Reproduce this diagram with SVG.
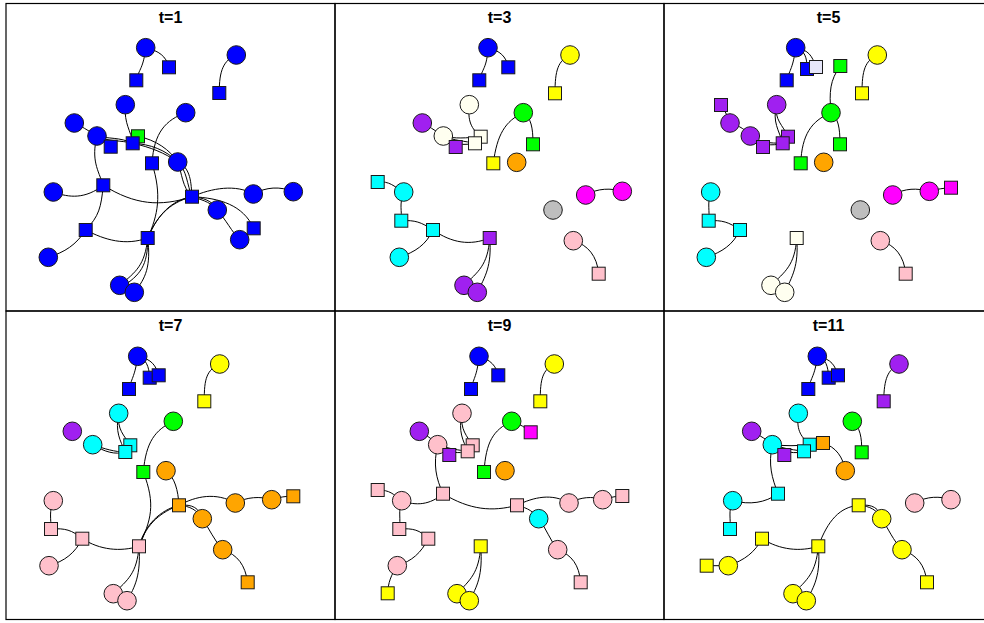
<svg xmlns="http://www.w3.org/2000/svg" xmlns:xlink="http://www.w3.org/1999/xlink" width="984" height="623" viewBox="0 0 984 623">
<style>
.frame{fill:none;stroke:#000;stroke-width:1.2}
.t{font-family:"Liberation Sans",Arial,sans-serif;font-weight:bold;font-size:16px;text-anchor:middle;fill:#000}
.e{fill:none;stroke:#000;stroke-width:1}
.n{stroke:#1a1a1a;stroke-width:1}
.bl{fill:#0000FF}.gr{fill:#00FF00}.ye{fill:#FFFF00}.pu{fill:#A020F0}.iv{fill:#FFFFF0}.or{fill:#FFA500}
.cy{fill:#00FFFF}.ma{fill:#FF00FF}.gy{fill:#BEBEBE}.pk{fill:#FFC0CB}.lv{fill:#E6E6FA}
</style>
<defs>
<rect id="sq" x="-6.5" y="-6.5" width="13" height="13"/>
</defs>
<rect width="984" height="623" fill="#fff"/>
<g id="frames">
<rect class="frame" x="6" y="3.5" width="329" height="307.5"/>
<rect class="frame" x="335" y="3.5" width="329" height="307.5"/>
<rect class="frame" x="664" y="3.5" width="329" height="307.5"/>
<rect class="frame" x="6" y="311" width="329" height="308.5"/>
<rect class="frame" x="335" y="311" width="329" height="308.5"/>
<rect class="frame" x="664" y="311" width="329" height="308.5"/>
</g>
<g id="titles">
<text class="t" x="170.5" y="22.5">t=1</text>
<text class="t" x="499.5" y="22.5">t=3</text>
<text class="t" x="828.5" y="22.5">t=5</text>
<text class="t" x="170.5" y="330.5">t=7</text>
<text class="t" x="499.5" y="330.5">t=9</text>
<text class="t" x="828.5" y="330.5">t=11</text>
</g>
<g id="connectors">
<!-- panel 1 -->
<path class="e" d="M145.7,47.7 C143.5,68 139,69 136.3,80.3"/>
<path class="e" d="M145.7,47.7 C159,51 166,56 169,67.3"/>
<path class="e" d="M236.3,55 C224,60 219,70 219.3,93"/>
<path class="e" d="M125.3,104.7 C124,125 131,130 132.7,143.3"/>
<path class="e" d="M185.7,112.7 C166,120 154,132 152,163.3"/>
<path class="e" d="M74.3,123 C85,128 90,132 97,136"/>
<path class="e" d="M97,136 C104,141 106,143 110.7,146.7"/>
<path class="e" d="M97,136 C108,139 120,137 132.7,143.3"/>
<path class="e" d="M97,136 C108,142 121,140 132.7,143.3"/>
<path class="e" d="M132.7,143.3 C150,144 166,150 177.7,162"/>
<path class="e" d="M132.7,143.3 C150,147 165,153 177.7,162"/>
<path class="e" d="M138,136.3 C156,140 170,150 177.7,162"/>
<path class="e" d="M177.7,162 C187,170 187,185 192,196.7"/>
<path class="e" d="M177.7,162 C182,173 182,187 192,196.7"/>
<path class="e" d="M177.7,162 C191,168 191,183 192,196.7"/>
<path class="e" d="M97,136 C91,160 98,170 103.3,185.3"/>
<path class="e" d="M53.3,192 C70,198 85,199 103.3,185.3"/>
<path class="e" d="M103.3,185.3 C135,205 160,207 192,196.7"/>
<path class="e" d="M103.3,185.3 C101,208 99,216 85.7,230"/>
<path class="e" d="M85.7,230 C76,245 65,252 48.3,257.3"/>
<path class="e" d="M85.7,230 C105,240 125,246 147.7,238"/>
<path class="e" d="M152,163.3 C162,195 158,215 147.7,238"/>
<path class="e" d="M192,196.7 C168,203 156,218 147.7,238"/>
<path class="e" d="M192,196.7 C172,200 158,214 147.7,238"/>
<path class="e" d="M192,196.7 C212,188 236,184 253.3,194"/>
<path class="e" d="M253.3,194 C266,187 280,186 293.3,191.7"/>
<path class="e" d="M192,196.7 C203,198 212,200 217.3,210"/>
<path class="e" d="M192,196.7 C206,201 211,203 217.3,210"/>
<path class="e" d="M192,196.7 C220,198 243,205 253.7,228.3"/>
<path class="e" d="M217.3,210 C226,220 232,232 239.7,239.7"/>
<path class="e" d="M147.7,238 C145,265 136,272 119.7,285.3"/>
<path class="e" d="M147.7,238 C148,266 140,275 122,287"/>
<path class="e" d="M147.7,238 C151,266 146,278 134.3,292.3"/>
<!-- panel 2 -->
<path class="e" d="M488,47.7 C487,68 482,69 479.3,80.3"/>
<path class="e" d="M488,47.7 C500,51 506,56 508.3,67.3"/>
<path class="e" d="M570,55 C558,61 555,70 555,93.3"/>
<path class="e" d="M469.3,104.7 C467,125 474,130 480.7,136.7"/>
<path class="e" d="M422.3,123 C432,128 437,132 443.3,136"/>
<path class="e" d="M443.3,136 C455,139 466,138 480.7,136.7"/>
<path class="e" d="M443.3,136 C455,141 465,141 475,143.3"/>
<path class="e" d="M443.3,136 C452,146 465,145 475,143.3"/>
<path class="e" d="M443.3,136 C449,142 452,144 455.7,147"/>
<path class="e" d="M523.3,112.7 C505,121 497,135 493.3,163.3"/>
<path class="e" d="M523.3,112.7 C531,118 533,127 533,144.3"/>
<path class="e" d="M377.7,182 C390,181 393,186 403.7,192"/>
<path class="e" d="M403.7,192 C399,205 402,210 401.3,220.7"/>
<path class="e" d="M401.3,220.7 C415,220 421,222 433,230"/>
<path class="e" d="M433,230 C426,245 415,252 399.3,257.3"/>
<path class="e" d="M433,230 C452,243 470,246 489.7,238"/>
<path class="e" d="M489.7,238 C488,265 478,272 464,285.3"/>
<path class="e" d="M489.7,238 C492,266 485,277 477.3,292.3"/>
<path class="e" d="M585.7,195 C598,188 611,188 622.3,191.3"/>
<path class="e" d="M573.3,240.7 C588,245 597,256 598.7,273.7"/>
<!-- panel 3 -->
<path class="e" d="M795.7,47.7 C793,68 790,69 786.7,80.3"/>
<path class="e" d="M795.7,47.7 C805,51 807,57 807,69"/>
<path class="e" d="M795.7,47.7 C809,50 812,56 816,67"/>
<path class="e" d="M840.3,66 C830,80 829,92 831,112.7"/>
<path class="e" d="M877.3,55 C865,61 862,70 862,93.3"/>
<path class="e" d="M721,105 C726,112 727,116 730,123"/>
<path class="e" d="M730,123 C740,126 746,130 750.3,136"/>
<path class="e" d="M750.3,136 C760,143 770,143 782.7,143.3"/>
<path class="e" d="M750.3,136 C762,146 772,146 782.7,143.3"/>
<path class="e" d="M750.3,136 C757,141 760,144 763,147"/>
<path class="e" d="M776.7,104.7 C774,120 783,125 788,136.7"/>
<path class="e" d="M776.7,104.7 C772,122 779,130 782.7,143.3"/>
<path class="e" d="M831,112.7 C811,121 802,135 800.7,163.3"/>
<path class="e" d="M831,112.7 C838,118 840,127 840,144.3"/>
<path class="e" d="M710.7,192 C707,205 710,210 708.7,220.7"/>
<path class="e" d="M708.7,220.7 C722,220 729,222 740,230"/>
<path class="e" d="M740,230 C733,245 722,252 706.3,257.3"/>
<path class="e" d="M796.7,238 C795,265 785,272 771,285.3"/>
<path class="e" d="M796.7,238 C799,266 792,277 784.7,292.3"/>
<path class="e" d="M892.7,195 C905,188 917,188 929.3,191.3"/>
<path class="e" d="M929.3,191.3 C938,189 944,188 951,187.7"/>
<path class="e" d="M880.3,240.7 C895,245 904,256 905.7,273.7"/>
<!-- panel 4 -->
<path class="e" d="M137.7,356.3 C135,376 132,377 129,389"/>
<path class="e" d="M137.7,356.3 C146,359 149,366 149.7,377.7"/>
<path class="e" d="M137.7,356.3 C152,359 156,366 158.7,375.3"/>
<path class="e" d="M219.7,364 C207,370 204,378 204.3,401.3"/>
<path class="e" d="M118.7,413.3 C117,430 124,435 130.3,445.3"/>
<path class="e" d="M118.7,413.3 C115,432 120,440 125.3,452"/>
<path class="e" d="M92.7,444.7 C105,449 115,452 125.3,452"/>
<path class="e" d="M92.7,444.7 C105,452 115,455 125.3,452"/>
<path class="e" d="M173.3,421.3 C155,430 146,442 143.3,472"/>
<path class="e" d="M143.3,472 C156,505 151,520 139,546.3"/>
<path class="e" d="M139,546.3 C145,525 160,510 179,505.3"/>
<path class="e" d="M139,546.3 C147,522 162,512 179,505.3"/>
<path class="e" d="M166,470.7 C175,478 178,490 179,505.3"/>
<path class="e" d="M179,505.3 C196,496 216,492 235.3,503"/>
<path class="e" d="M235.3,503 C247,497 260,496 271.7,499.7"/>
<path class="e" d="M271.7,499.7 C280,497 286,496 293.3,496.3"/>
<path class="e" d="M179,505.3 C190,506 197,510 202.3,518.7"/>
<path class="e" d="M179,505.3 C193,504 199,508 202.3,518.7"/>
<path class="e" d="M202.3,518.7 C210,530 214,540 222.7,549.7"/>
<path class="e" d="M222.7,549.7 C238,555 245,565 247.7,582.3"/>
<path class="e" d="M53.3,500.7 C49,512 51,518 51,529"/>
<path class="e" d="M51,529 C65,528 72,530 82.3,538.7"/>
<path class="e" d="M82.3,538.7 C75,553 65,561 49,565.7"/>
<path class="e" d="M82.3,538.7 C100,550 120,552 139,546.3"/>
<path class="e" d="M139,546.3 C137,573 128,580 113.3,593.7"/>
<path class="e" d="M139,546.3 C141,575 135,587 127,600.7"/>
<!-- panel 5 -->
<path class="e" d="M479,356.3 C477,376 474,377 471,389"/>
<path class="e" d="M479,356.3 C491,360 496,366 498.3,375.3"/>
<path class="e" d="M554.3,364 C543,370 540,378 540.3,401.3"/>
<path class="e" d="M462,413.3 C460,430 467,436 472.7,445.3"/>
<path class="e" d="M462,413.3 C458,432 463,440 467.7,451.3"/>
<path class="e" d="M419.3,431.3 C428,436 433,440 437.7,444.7"/>
<path class="e" d="M437.7,444.7 C450,449 458,450 467.7,451.3"/>
<path class="e" d="M437.7,444.7 C450,453 458,454 467.7,451.3"/>
<path class="e" d="M437.7,444.7 C443,450 446,452 449.3,455"/>
<path class="e" d="M511.7,421.3 C493,430 486,442 484,472"/>
<path class="e" d="M511.7,421.3 C520,424 526,428 530.7,432.3"/>
<path class="e" d="M437.7,444.7 C433,465 436,478 443,493.7"/>
<path class="e" d="M377.7,490 C390,490 393,494 401.7,500.7"/>
<path class="e" d="M401.7,500.7 C416,506 430,505 443,493.7"/>
<path class="e" d="M443,493.7 C470,510 492,512 517,505.3"/>
<path class="e" d="M517,505.3 C534,497 552,493 569,503"/>
<path class="e" d="M569,503 C581,497 592,496 602.7,499.7"/>
<path class="e" d="M602.7,499.7 C612,497 617,496 622.3,496"/>
<path class="e" d="M517,505.3 C528,508 534,512 538.7,518.7"/>
<path class="e" d="M538.7,518.7 C547,530 550,540 557.7,549.7"/>
<path class="e" d="M557.7,549.7 C572,555 579,565 580.7,582.3"/>
<path class="e" d="M401.7,500.7 C398,512 401,518 399.3,529"/>
<path class="e" d="M399.3,529 C413,528 420,530 428.3,538.7"/>
<path class="e" d="M428.3,538.7 C421,553 412,561 397.3,565.7"/>
<path class="e" d="M397.3,565.7 C391,575 388,583 387.7,593.3"/>
<path class="e" d="M480.7,546.3 C479,573 470,580 457,593.7"/>
<path class="e" d="M480.7,546.3 C483,575 477,587 469.3,600.7"/>
<!-- panel 6 -->
<path class="e" d="M817.3,356.3 C815,376 811,377 808.3,389"/>
<path class="e" d="M817.3,356.3 C826,359 828,366 828.7,377.7"/>
<path class="e" d="M817.3,356.3 C832,359 835,366 838,375.3"/>
<path class="e" d="M899,364 C888,370 884,378 883.7,401.3"/>
<path class="e" d="M798.3,413.3 C796,432 802,437 809.7,444.7"/>
<path class="e" d="M751.7,431.3 C761,436 767,440 772.3,444.7"/>
<path class="e" d="M772.3,444.7 C785,449 795,450 804,451.3"/>
<path class="e" d="M772.3,444.7 C785,446 797,446 809.7,444.7"/>
<path class="e" d="M772.3,444.7 C785,453 795,454 804,451.3"/>
<path class="e" d="M772.3,444.7 C778,450 781,452 784.3,455"/>
<path class="e" d="M823,443 C836,447 843,457 845.3,470.7"/>
<path class="e" d="M852.3,421.3 C860,427 862,437 861.7,452.3"/>
<path class="e" d="M772.3,444.7 C768,465 772,478 778,493.7"/>
<path class="e" d="M778,493.7 C765,503 750,505 732.7,500.7"/>
<path class="e" d="M732.7,500.7 C728,512 731,518 730,529"/>
<path class="e" d="M706.7,565.7 L728.3,565.7"/>
<path class="e" d="M728.3,565.7 C745,560 755,552 762,538.7"/>
<path class="e" d="M762,538.7 C780,550 800,552 818.3,546.3"/>
<path class="e" d="M818.3,546.3 C828,520 840,507 858.7,505.3"/>
<path class="e" d="M858.7,505.3 C870,506 877,510 881.7,518.7"/>
<path class="e" d="M858.7,505.3 C873,504 879,508 881.7,518.7"/>
<path class="e" d="M881.7,518.7 C889,530 893,540 902,549.7"/>
<path class="e" d="M902,549.7 C917,555 925,565 927,582.3"/>
<path class="e" d="M818.3,546.3 C816,573 807,580 793,593.7"/>
<path class="e" d="M818.3,546.3 C821,575 814,587 806.3,600.7"/>
<path class="e" d="M914.7,503 C927,496 940,496 951,499.7"/>
</g>
<!-- panel 1 nodes -->
<g id="p1-c1"><circle class="n bl" cx="145.7" cy="47.7" r="9.3"/></g>
<g id="p1-c2"><circle class="n bl" cx="236.3" cy="55" r="9.3"/></g>
<g id="p1-c3"><circle class="n bl" cx="125.3" cy="104.7" r="9.3"/></g>
<g id="p1-c4"><circle class="n bl" cx="185.7" cy="112.7" r="9.3"/></g>
<g id="p1-c5"><circle class="n bl" cx="74.3" cy="123" r="9.3"/></g>
<g id="p1-c6"><circle class="n bl" cx="97" cy="136" r="9.3"/></g>
<g id="p1-c7"><circle class="n bl" cx="177.7" cy="162" r="9.3"/></g>
<g id="p1-c8"><circle class="n bl" cx="53.3" cy="192" r="9.3"/></g>
<g id="p1-c9"><circle class="n bl" cx="253.3" cy="194" r="9.3"/></g>
<g id="p1-c10"><circle class="n bl" cx="293.3" cy="191.7" r="9.3"/></g>
<g id="p1-c11"><circle class="n bl" cx="217.3" cy="210" r="9.3"/></g>
<g id="p1-c12"><circle class="n bl" cx="239.7" cy="239.7" r="9.3"/></g>
<g id="p1-c13"><circle class="n bl" cx="48.3" cy="257.3" r="9.3"/></g>
<g id="p1-c14"><circle class="n bl" cx="119.7" cy="285.3" r="9.3"/></g>
<g id="p1-c15"><circle class="n bl" cx="134.3" cy="292.3" r="9.3"/></g>
<g id="p1-s1"><use href="#sq" x="169" y="67.3" class="n bl"/></g>
<g id="p1-s2"><use href="#sq" x="136.3" y="80.3" class="n bl"/></g>
<g id="p1-s3"><use href="#sq" x="219.3" y="93" class="n bl"/></g>
<g id="p1-s4"><use href="#sq" x="138" y="136.3" class="n gr"/></g>
<g id="p1-s5"><use href="#sq" x="110.7" y="146.7" class="n bl"/></g>
<g id="p1-s6"><use href="#sq" x="132.7" y="143.3" class="n bl"/></g>
<g id="p1-s7"><use href="#sq" x="152" y="163.3" class="n bl"/></g>
<g id="p1-s8"><use href="#sq" x="103.3" y="185.3" class="n bl"/></g>
<g id="p1-s9"><use href="#sq" x="192" y="196.7" class="n bl"/></g>
<g id="p1-s10"><use href="#sq" x="253.7" y="228.3" class="n bl"/></g>
<g id="p1-s11"><use href="#sq" x="85.7" y="230" class="n bl"/></g>
<g id="p1-s12"><use href="#sq" x="147.7" y="238" class="n bl"/></g>
<!-- panel 2 nodes -->
<g id="p2-c1"><circle class="n bl" cx="488" cy="47.7" r="9.3"/></g>
<g id="p2-c2"><circle class="n ye" cx="570" cy="55" r="9.3"/></g>
<g id="p2-c3"><circle class="n iv" cx="469.3" cy="104.7" r="9.3"/></g>
<g id="p2-c4"><circle class="n gr" cx="523.3" cy="112.7" r="9.3"/></g>
<g id="p2-c5"><circle class="n pu" cx="422.3" cy="123" r="9.3"/></g>
<g id="p2-c6"><circle class="n iv" cx="443.3" cy="136" r="9.3"/></g>
<g id="p2-c7"><circle class="n or" cx="516.7" cy="162.3" r="9.3"/></g>
<g id="p2-c8"><circle class="n cy" cx="403.7" cy="192" r="9.3"/></g>
<g id="p2-c9"><circle class="n ma" cx="585.7" cy="195" r="9.3"/></g>
<g id="p2-c10"><circle class="n ma" cx="622.3" cy="191.3" r="9.3"/></g>
<g id="p2-c11"><circle class="n gy" cx="553" cy="210" r="9.3"/></g>
<g id="p2-c12"><circle class="n pk" cx="573.3" cy="240.7" r="9.3"/></g>
<g id="p2-c13"><circle class="n cy" cx="399.3" cy="257.3" r="9.3"/></g>
<g id="p2-c14"><circle class="n pu" cx="464" cy="285.3" r="9.3"/></g>
<g id="p2-c15"><circle class="n pu" cx="477.3" cy="292.3" r="9.3"/></g>
<g id="p2-s1"><use href="#sq" x="508.3" y="67.3" class="n bl"/></g>
<g id="p2-s2"><use href="#sq" x="479.3" y="80.3" class="n bl"/></g>
<g id="p2-s3"><use href="#sq" x="555" y="93.3" class="n ye"/></g>
<g id="p2-s4"><use href="#sq" x="480.7" y="136.7" class="n iv"/></g>
<g id="p2-s5"><use href="#sq" x="475" y="143.3" class="n iv"/></g>
<g id="p2-s6"><use href="#sq" x="455.7" y="147" class="n pu"/></g>
<g id="p2-s7"><use href="#sq" x="493.3" y="163.3" class="n ye"/></g>
<g id="p2-s8"><use href="#sq" x="533" y="144.3" class="n gr"/></g>
<g id="p2-s9"><use href="#sq" x="377.7" y="182" class="n cy"/></g>
<g id="p2-s10"><use href="#sq" x="401.3" y="220.7" class="n cy"/></g>
<g id="p2-s11"><use href="#sq" x="433" y="230" class="n cy"/></g>
<g id="p2-s12"><use href="#sq" x="489.7" y="238" class="n pu"/></g>
<g id="p2-s13"><use href="#sq" x="598.7" y="273.7" class="n pk"/></g>
<!-- panel 3 nodes -->
<g id="p3-c1"><circle class="n bl" cx="795.7" cy="47.7" r="9.3"/></g>
<g id="p3-c2"><circle class="n ye" cx="877.3" cy="55" r="9.3"/></g>
<g id="p3-c3"><circle class="n pu" cx="776.7" cy="104.7" r="9.3"/></g>
<g id="p3-c4"><circle class="n gr" cx="831" cy="112.7" r="9.3"/></g>
<g id="p3-c5"><circle class="n pu" cx="730" cy="123" r="9.3"/></g>
<g id="p3-c6"><circle class="n pu" cx="750.3" cy="136" r="9.3"/></g>
<g id="p3-c7"><circle class="n or" cx="823.7" cy="162.3" r="9.3"/></g>
<g id="p3-c8"><circle class="n cy" cx="710.7" cy="192" r="9.3"/></g>
<g id="p3-c9"><circle class="n ma" cx="892.7" cy="195" r="9.3"/></g>
<g id="p3-c10"><circle class="n ma" cx="929.3" cy="191.3" r="9.3"/></g>
<g id="p3-c11"><circle class="n gy" cx="860.3" cy="210" r="9.3"/></g>
<g id="p3-c12"><circle class="n pk" cx="880.3" cy="240.7" r="9.3"/></g>
<g id="p3-c13"><circle class="n cy" cx="706.3" cy="257.3" r="9.3"/></g>
<g id="p3-c14"><circle class="n iv" cx="771" cy="285.3" r="9.3"/></g>
<g id="p3-c15"><circle class="n iv" cx="784.7" cy="292.3" r="9.3"/></g>
<g id="p3-s1"><use href="#sq" x="786.7" y="80.3" class="n bl"/></g>
<g id="p3-s2"><use href="#sq" x="807" y="69" class="n bl"/></g>
<g id="p3-s3"><use href="#sq" x="816" y="67" class="n lv"/></g>
<g id="p3-s4"><use href="#sq" x="840.3" y="66" class="n gr"/></g>
<g id="p3-s5"><use href="#sq" x="862" y="93.3" class="n ye"/></g>
<g id="p3-s6"><use href="#sq" x="721" y="105" class="n pu"/></g>
<g id="p3-s7"><use href="#sq" x="788" y="136.7" class="n pu"/></g>
<g id="p3-s8"><use href="#sq" x="763" y="147" class="n pu"/></g>
<g id="p3-s9"><use href="#sq" x="782.7" y="143.3" class="n pu"/></g>
<g id="p3-s10"><use href="#sq" x="840" y="144.3" class="n gr"/></g>
<g id="p3-s11"><use href="#sq" x="800.7" y="163.3" class="n gr"/></g>
<g id="p3-s12"><use href="#sq" x="708.7" y="220.7" class="n cy"/></g>
<g id="p3-s13"><use href="#sq" x="740" y="230" class="n cy"/></g>
<g id="p3-s14"><use href="#sq" x="796.7" y="238" class="n iv"/></g>
<g id="p3-s15"><use href="#sq" x="905.7" y="273.7" class="n pk"/></g>
<g id="p3-s16"><use href="#sq" x="951" y="187.7" class="n ma"/></g>
<!-- panel 4 nodes -->
<g id="p4-c1"><circle class="n bl" cx="137.7" cy="356.3" r="9.3"/></g>
<g id="p4-c2"><circle class="n ye" cx="219.7" cy="364" r="9.3"/></g>
<g id="p4-c3"><circle class="n cy" cx="118.7" cy="413.3" r="9.3"/></g>
<g id="p4-c4"><circle class="n gr" cx="173.3" cy="421.3" r="9.3"/></g>
<g id="p4-c5"><circle class="n pu" cx="72.3" cy="431.3" r="9.3"/></g>
<g id="p4-c6"><circle class="n cy" cx="92.7" cy="444.7" r="9.3"/></g>
<g id="p4-c7"><circle class="n or" cx="166" cy="470.7" r="9.3"/></g>
<g id="p4-c8"><circle class="n pk" cx="53.3" cy="500.7" r="9.3"/></g>
<g id="p4-c9"><circle class="n or" cx="235.3" cy="503" r="9.3"/></g>
<g id="p4-c10"><circle class="n or" cx="271.7" cy="499.7" r="9.3"/></g>
<g id="p4-c11"><circle class="n or" cx="202.3" cy="518.7" r="9.3"/></g>
<g id="p4-c12"><circle class="n or" cx="222.7" cy="549.7" r="9.3"/></g>
<g id="p4-c13"><circle class="n pk" cx="49" cy="565.7" r="9.3"/></g>
<g id="p4-c14"><circle class="n pk" cx="113.3" cy="593.7" r="9.3"/></g>
<g id="p4-c15"><circle class="n pk" cx="127" cy="600.7" r="9.3"/></g>
<g id="p4-s1"><use href="#sq" x="129" y="389" class="n bl"/></g>
<g id="p4-s2"><use href="#sq" x="149.7" y="377.7" class="n bl"/></g>
<g id="p4-s3"><use href="#sq" x="158.7" y="375.3" class="n bl"/></g>
<g id="p4-s4"><use href="#sq" x="204.3" y="401.3" class="n ye"/></g>
<g id="p4-s5"><use href="#sq" x="130.3" y="445.3" class="n cy"/></g>
<g id="p4-s6"><use href="#sq" x="125.3" y="452" class="n cy"/></g>
<g id="p4-s7"><use href="#sq" x="143.3" y="472" class="n gr"/></g>
<g id="p4-s8"><use href="#sq" x="179" y="505.3" class="n or"/></g>
<g id="p4-s9"><use href="#sq" x="293.3" y="496.3" class="n or"/></g>
<g id="p4-s10"><use href="#sq" x="51" y="529" class="n pk"/></g>
<g id="p4-s11"><use href="#sq" x="82.3" y="538.7" class="n pk"/></g>
<g id="p4-s12"><use href="#sq" x="139" y="546.3" class="n pk"/></g>
<g id="p4-s13"><use href="#sq" x="247.7" y="582.3" class="n or"/></g>
<!-- panel 5 nodes -->
<g id="p5-c1"><circle class="n bl" cx="479" cy="356.3" r="9.3"/></g>
<g id="p5-c2"><circle class="n ye" cx="554.3" cy="364" r="9.3"/></g>
<g id="p5-c3"><circle class="n pk" cx="462" cy="413.3" r="9.3"/></g>
<g id="p5-c4"><circle class="n gr" cx="511.7" cy="421.3" r="9.3"/></g>
<g id="p5-c5"><circle class="n pu" cx="419.3" cy="431.3" r="9.3"/></g>
<g id="p5-c6"><circle class="n pk" cx="437.7" cy="444.7" r="9.3"/></g>
<g id="p5-c7"><circle class="n or" cx="505" cy="470.7" r="9.3"/></g>
<g id="p5-c8"><circle class="n pk" cx="401.7" cy="500.7" r="9.3"/></g>
<g id="p5-c9"><circle class="n pk" cx="569" cy="503" r="9.3"/></g>
<g id="p5-c10"><circle class="n pk" cx="602.7" cy="499.7" r="9.3"/></g>
<g id="p5-c11"><circle class="n cy" cx="538.7" cy="518.7" r="9.3"/></g>
<g id="p5-c12"><circle class="n pk" cx="557.7" cy="549.7" r="9.3"/></g>
<g id="p5-c13"><circle class="n pk" cx="397.3" cy="565.7" r="9.3"/></g>
<g id="p5-c14"><circle class="n ye" cx="457" cy="593.7" r="9.3"/></g>
<g id="p5-c15"><circle class="n ye" cx="469.3" cy="600.7" r="9.3"/></g>
<g id="p5-s1"><use href="#sq" x="498.3" y="375.3" class="n bl"/></g>
<g id="p5-s2"><use href="#sq" x="471" y="389" class="n bl"/></g>
<g id="p5-s3"><use href="#sq" x="540.3" y="401.3" class="n ye"/></g>
<g id="p5-s4"><use href="#sq" x="530.7" y="432.3" class="n ma"/></g>
<g id="p5-s5"><use href="#sq" x="472.7" y="445.3" class="n pk"/></g>
<g id="p5-s6"><use href="#sq" x="467.7" y="451.3" class="n pk"/></g>
<g id="p5-s7"><use href="#sq" x="449.3" y="455" class="n pu"/></g>
<g id="p5-s8"><use href="#sq" x="484" y="472" class="n gr"/></g>
<g id="p5-s9"><use href="#sq" x="377.7" y="490" class="n pk"/></g>
<g id="p5-s10"><use href="#sq" x="443" y="493.7" class="n pk"/></g>
<g id="p5-s11"><use href="#sq" x="517" y="505.3" class="n pk"/></g>
<g id="p5-s12"><use href="#sq" x="622.3" y="496" class="n pk"/></g>
<g id="p5-s13"><use href="#sq" x="399.3" y="529" class="n pk"/></g>
<g id="p5-s14"><use href="#sq" x="428.3" y="538.7" class="n pk"/></g>
<g id="p5-s15"><use href="#sq" x="480.7" y="546.3" class="n ye"/></g>
<g id="p5-s16"><use href="#sq" x="580.7" y="582.3" class="n pk"/></g>
<g id="p5-s17"><use href="#sq" x="387.7" y="593.3" class="n ye"/></g>
<!-- panel 6 nodes -->
<g id="p6-c1"><circle class="n bl" cx="817.3" cy="356.3" r="9.3"/></g>
<g id="p6-c2"><circle class="n pu" cx="899" cy="364" r="9.3"/></g>
<g id="p6-c3"><circle class="n cy" cx="798.3" cy="413.3" r="9.3"/></g>
<g id="p6-c4"><circle class="n gr" cx="852.3" cy="421.3" r="9.3"/></g>
<g id="p6-c5"><circle class="n pu" cx="751.7" cy="431.3" r="9.3"/></g>
<g id="p6-c6"><circle class="n cy" cx="772.3" cy="444.7" r="9.3"/></g>
<g id="p6-c7"><circle class="n or" cx="845.3" cy="470.7" r="9.3"/></g>
<g id="p6-c8"><circle class="n cy" cx="732.7" cy="500.7" r="9.3"/></g>
<g id="p6-c9"><circle class="n pk" cx="914.7" cy="503" r="9.3"/></g>
<g id="p6-c10"><circle class="n pk" cx="951" cy="499.7" r="9.3"/></g>
<g id="p6-c11"><circle class="n ye" cx="881.7" cy="518.7" r="9.3"/></g>
<g id="p6-c12"><circle class="n ye" cx="902" cy="549.7" r="9.3"/></g>
<g id="p6-c13"><circle class="n ye" cx="728.3" cy="565.7" r="9.3"/></g>
<g id="p6-c14"><circle class="n ye" cx="793" cy="593.7" r="9.3"/></g>
<g id="p6-c15"><circle class="n ye" cx="806.3" cy="600.7" r="9.3"/></g>
<g id="p6-s1"><use href="#sq" x="828.7" y="377.7" class="n bl"/></g>
<g id="p6-s2"><use href="#sq" x="838" y="375.3" class="n bl"/></g>
<g id="p6-s3"><use href="#sq" x="808.3" y="389" class="n bl"/></g>
<g id="p6-s4"><use href="#sq" x="883.7" y="401.3" class="n pu"/></g>
<g id="p6-s5"><use href="#sq" x="809.7" y="444.7" class="n cy"/></g>
<g id="p6-s6"><use href="#sq" x="823" y="443" class="n or"/></g>
<g id="p6-s7"><use href="#sq" x="804" y="451.3" class="n cy"/></g>
<g id="p6-s8"><use href="#sq" x="784.3" y="455" class="n pu"/></g>
<g id="p6-s9"><use href="#sq" x="861.7" y="452.3" class="n gr"/></g>
<g id="p6-s10"><use href="#sq" x="778" y="493.7" class="n cy"/></g>
<g id="p6-s11"><use href="#sq" x="858.7" y="505.3" class="n ye"/></g>
<g id="p6-s12"><use href="#sq" x="730" y="529" class="n cy"/></g>
<g id="p6-s13"><use href="#sq" x="762" y="538.7" class="n ye"/></g>
<g id="p6-s14"><use href="#sq" x="818.3" y="546.3" class="n ye"/></g>
<g id="p6-s15"><use href="#sq" x="706.7" y="565.7" class="n ye"/></g>
<g id="p6-s16"><use href="#sq" x="927" y="582.3" class="n ye"/></g>
</svg>
